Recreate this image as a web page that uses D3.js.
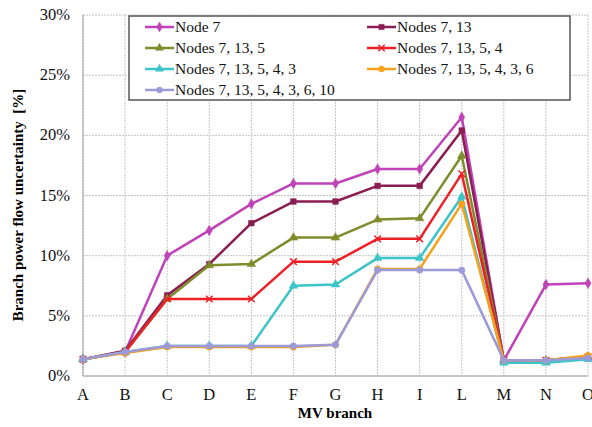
<!DOCTYPE html>
<meta charset="utf-8">
<style>
body { margin: 0; background: #fff; }
svg { display: block; font-family: "Liberation Serif", serif; }
.grid line { stroke: #c4c4c4; stroke-width: 1; stroke-dasharray: 2,1; }
.axis-title { font-size: 15px; font-weight: bold; }
.tick-label { font-size: 16.5px; fill: #111; }
.legend-text { font-size: 15.5px; fill: #111; }
.series { fill: none; stroke-width: 2.5; stroke-linejoin: round; }
</style>
<body>
<svg width="592" height="427"></svg>
<script src="https://d3js.org/d3.v7.min.js"></script>
<script>
// branches on the x axis
const categories = ["A", "B", "C", "D", "E", "F", "G", "H", "I", "L", "M", "N", "O"];

const seriesNames = [
  "Node 7",
  "Nodes 7, 13",
  "Nodes 7, 13, 5",
  "Nodes 7, 13, 5, 4",
  "Nodes 7, 13, 5, 4, 3",
  "Nodes 7, 13, 5, 4, 3, 6",
  "Nodes 7, 13, 5, 4, 3, 6, 10"
];

// uncertainty in %
const node7        = [1.4, 2.0, 10.0, 12.1, 14.3, 16.0, 16.0, 17.2, 17.2, 21.5, 1.3, 7.6, 7.7];
const nodes7_13    = [1.4, 2.1, 6.7, 9.3, 12.7, 14.5, 14.5, 15.8, 15.8, 20.4, 1.3, 1.3, 1.6];
const nodes7_13_5  = [1.4, 2.0, 6.4, 9.2, 9.3, 11.5, 11.5, 13.0, 13.1, 18.3, 1.3, 1.3, 1.6];
const nodes_to_4   = [1.4, 2.0, 6.4, 6.4, 6.4, 9.5, 9.5, 11.4, 11.4, 16.8, 1.3, 1.3, 1.6];
const nodes_to_3   = [1.4, 2.0, 2.5, 2.5, 2.5, 7.5, 7.6, 9.8, 9.8, 14.9, 1.1, 1.1, 1.4];
const nodes_to_6   = [1.4, 1.9, 2.4, 2.4, 2.4, 2.4, 2.6, 8.9, 8.9, 14.3, 1.3, 1.3, 1.7];
const nodes_to_10  = [1.4, 2.0, 2.5, 2.5, 2.5, 2.5, 2.6, 8.8, 8.8, 8.8, 1.3, 1.3, 1.5];

const yTicks = [0, 5, 10, 15, 20, 25, 30];

const colors = ["#c042b8", "#8a1d52", "#7f8c2b", "#ef1f26", "#3cc4c9", "#f6a01c", "#9c9ad8"];
const symbols = [d3.symbolDiamond, d3.symbolSquare, d3.symbolTriangle, d3.symbolTimes,
                 d3.symbolTriangle, d3.symbolCircle, d3.symbolCircle];

const allSeries = [node7, nodes7_13, nodes7_13_5, nodes_to_4, nodes_to_3, nodes_to_6, nodes_to_10];

const plot = {left: 83, right: 588, top: 15, bottom: 376};

const svg = d3.select("svg");

const x = d3.scalePoint()
    .domain(categories)
    .range([plot.left, plot.right])
    .padding(0);

const y = d3.scaleLinear()
    .domain([0, 30])
    .range([plot.bottom, plot.top]);

// grid
const grid = svg.append("g").attr("class", "grid");
grid.selectAll(".h")
  .data(yTicks)
  .enter().append("line")
    .attr("x1", plot.left).attr("x2", plot.right)
    .attr("y1", d => y(d)).attr("y2", d => y(d));
grid.selectAll(".v")
  .data(categories)
  .enter().append("line")
    .attr("x1", d => x(d)).attr("x2", d => x(d))
    .attr("y1", plot.top).attr("y2", plot.bottom);

// axis lines
svg.append("line")
    .attr("x1", plot.left).attr("x2", plot.left)
    .attr("y1", plot.top).attr("y2", plot.bottom)
    .attr("stroke", "#a0a0a0");
svg.append("line")
    .attr("x1", plot.left).attr("x2", plot.right)
    .attr("y1", plot.bottom).attr("y2", plot.bottom)
    .attr("stroke", "#a0a0a0");

// tick labels
svg.selectAll(".ylab")
  .data(yTicks)
  .enter().append("text")
    .attr("class", "tick-label")
    .attr("x", 70)
    .attr("y", d => y(d) + 5)
    .attr("text-anchor", "end")
    .text(d => d + "%");

svg.selectAll(".xlab")
  .data(categories)
  .enter().append("text")
    .attr("class", "tick-label")
    .attr("x", d => x(d))
    .attr("y", 400)
    .attr("text-anchor", "middle")
    .text(d => d);

// axis titles
svg.append("text")
    .attr("class", "axis-title")
    .attr("x", 335)
    .attr("y", 418)
    .attr("text-anchor", "middle")
    .text("MV branch");

svg.append("text")
    .attr("class", "axis-title")
    .attr("transform", "translate(23,205) rotate(-90)")
    .attr("text-anchor", "middle")
    .attr("xml:space", "preserve")
    .text("Branch power flow uncertainty  [%]");

// lines and markers
const line = d3.line()
    .x((d, i) => x(categories[i]))
    .y(d => y(d));

allSeries.forEach(function(vals, k) {
  svg.append("path")
      .datum(vals)
      .attr("class", "series")
      .attr("stroke", colors[k])
      .attr("stroke-width", k === 0 ? 3 : 2.5)
      .attr("d", line);

  svg.selectAll(".m" + k)
    .data(vals)
    .enter().append("path")
      .attr("transform", (d, i) => "translate(" + x(categories[i]) + "," + y(d) + ")")
      .attr("d", d3.symbol().type(symbols[k]).size(k === 3 ? 30 : 32))
      .attr("fill", k === 3 ? "none" : colors[k])
      .attr("stroke", colors[k])
      .attr("stroke-width", k === 3 ? 1.5 : 0.5);
});

// legend
const legend = svg.append("g");
legend.append("rect")
    .attr("x", 129).attr("y", 16)
    .attr("width", 441).attr("height", 84)
    .attr("fill", "#fff")
    .attr("stroke", "#555")
    .attr("stroke-width", 1.5);

seriesNames.forEach(function(name, k) {
  const col = (k === 6) ? 0 : k % 2;
  const row = Math.floor(k / 2);
  const lx = col === 0 ? 145 : 367;
  const ly = 27 + row * 21;
  legend.append("line")
      .attr("x1", lx).attr("x2", lx + 29)
      .attr("y1", ly).attr("y2", ly)
      .attr("stroke", colors[k])
      .attr("stroke-width", 2.5);
  legend.append("path")
      .attr("transform", "translate(" + (lx + 14.5) + "," + ly + ")")
      .attr("d", d3.symbol().type(symbols[k]).size(28))
      .attr("fill", k === 3 ? "none" : colors[k])
      .attr("stroke", colors[k])
      .attr("stroke-width", k === 3 ? 1.5 : 0.5);
  legend.append("text")
      .attr("class", "legend-text")
      .attr("x", lx + 30)
      .attr("y", ly + 5)
      .text(name);
});
</script>
</body>
